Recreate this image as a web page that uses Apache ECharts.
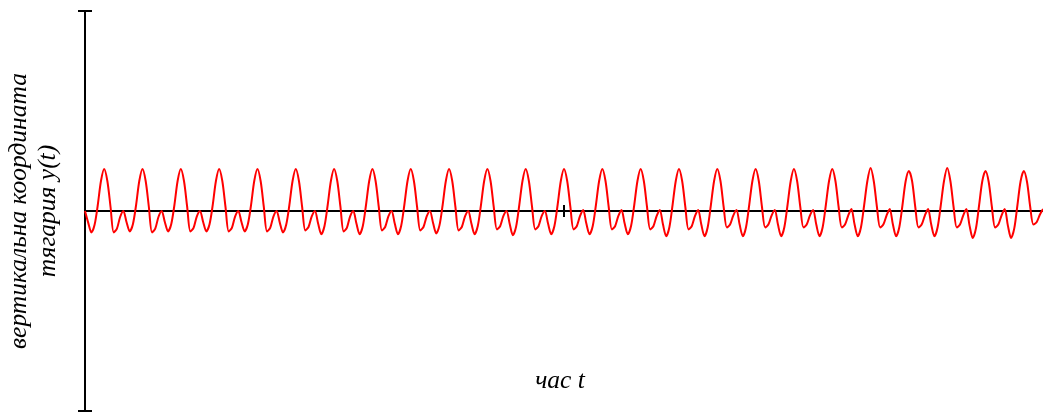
<!DOCTYPE html>
<html>
<head>
<meta charset="utf-8">
<script src="https://cdn.jsdelivr.net/npm/echarts@6/dist/echarts.min.js"></script>
<style>
  html, body { margin: 0; padding: 0; background: #fff; }
  #main { width: 1043px; height: 412px; }
</style>
</head>
<body>
<div id="main"></div>
<script>
var dom = document.getElementById('main');
var myChart = echarts.init(dom, null, { renderer: 'canvas' });

// axis texts
var xName = 'час t';
var yName = 'вертикальна координата\nтягария y(t)';

// y axis range and the one tick on the time axis
var yRange = [-10, 10];
var tRange = [0, 300];
var tTicks = [150];

// signal y(t), 12 samples per swing
var ySignal = [
  0, -0.58, -1.07, -0.69, 0.3, 1.5,
  2.1, 1.5, 0.2, -1.07, -0.88, -0.3, 0, -0.55, -1.02, -0.66, 0.3, 1.5,
  2.1, 1.5, 0.2, -1.07, -0.88, -0.3, 0, -0.55, -1.02, -0.66, 0.3, 1.5,
  2.1, 1.5, 0.2, -1.02, -0.84, -0.28, 0, -0.55, -1.02, -0.66, 0.3, 1.5,
  2.1, 1.5, 0.2, -1.02, -0.84, -0.28, 0, -0.55, -1.02, -0.66, 0.3, 1.5,
  2.1, 1.5, 0.2, -1.02, -0.84, -0.28, 0, -0.58, -1.07, -0.69, 0.3, 1.5,
  2.1, 1.5, 0.2, -0.97, -0.8, -0.27, 0, -0.63, -1.16, -0.75, 0.3, 1.5,
  2.1, 1.5, 0.2, -1.02, -0.84, -0.28, 0, -0.63, -1.16, -0.75, 0.3, 1.5,
  2.1, 1.5, 0.2, -0.97, -0.8, -0.27, 0, -0.63, -1.16, -0.75, 0.3, 1.5,
  2.1, 1.5, 0.2, -0.97, -0.8, -0.27, 0, -0.6, -1.12, -0.72, 0.3, 1.5,
  2.1, 1.5, 0.2, -0.97, -0.8, -0.27, 0, -0.63, -1.16, -0.75, 0.3, 1.5,
  2.1, 1.5, 0.2, -0.92, -0.76, -0.26, 0, -0.65, -1.21, -0.78, 0.3, 1.5,
  2.1, 1.5, 0.2, -0.92, -0.76, -0.26, 0, -0.63, -1.16, -0.75, 0.3, 1.5,
  2.1, 1.5, 0.2, -0.92, -0.76, -0.26, 0.05, -0.63, -1.16, -0.75, 0.3, 1.5,
  2.1, 1.5, 0.2, -0.92, -0.76, -0.26, 0.05, -0.63, -1.16, -0.75, 0.3, 1.5,
  2.1, 1.5, 0.2, -0.92, -0.76, -0.26, 0.05, -0.68, -1.26, -0.81, 0.3, 1.5,
  2.1, 1.5, 0.2, -0.92, -0.76, -0.26, 0.05, -0.68, -1.26, -0.81, 0.3, 1.5,
  2.1, 1.5, 0.2, -0.82, -0.68, -0.23, 0.05, -0.68, -1.26, -0.81, 0.3, 1.5,
  2.1, 1.5, 0.2, -0.82, -0.68, -0.23, 0.05, -0.68, -1.26, -0.81, 0.3, 1.5,
  2.1, 1.5, 0.2, -0.82, -0.68, -0.23, 0.05, -0.68, -1.26, -0.81, 0.3, 1.5,
  2.1, 1.5, 0.2, -0.82, -0.68, -0.23, 0.1, -0.68, -1.26, -0.81, 0.3, 1.5,
  2.15, 1.5, 0.2, -0.82, -0.68, -0.23, 0.1, -0.68, -1.26, -0.81, 0.3, 1.5,
  2.0, 1.5, 0.2, -0.82, -0.68, -0.23, 0.1, -0.68, -1.26, -0.81, 0.3, 1.5,
  2.15, 1.5, 0.2, -0.82, -0.68, -0.23, 0.1, -0.73, -1.35, -0.87, 0.3, 1.5,
  2.0, 1.45, 0.2, -0.82, -0.68, -0.23, 0.1, -0.73, -1.35, -0.87, 0.3, 1.5,
  2.0, 1.45, 0.2, -0.68, -0.56, -0.19, 0.1
];

var serif = 'Liberation Serif';
var lineStyle = { color: '#000', width: 2 };

function tAxis(inside, withName) {
  return {
    type: 'value',
    position: 'bottom',
    min: tRange[0],
    max: tRange[1],
    name: withName ? xName : '',
    nameLocation: 'middle',
    nameGap: -43,
    nameTextStyle: { fontFamily: serif, fontStyle: 'italic', fontSize: 25.5, color: '#000', padding: [0, 8, 0, 0] },
    axisLine: { show: withName, onZero: true, onZeroAxisIndex: 0, lineStyle: lineStyle },
    axisTick: { show: true, inside: inside, length: 6, customValues: tTicks, lineStyle: lineStyle },
    axisLabel: { show: false },
    splitLine: { show: false }
  };
}

function yAxisDef(inside, withName) {
  return {
    type: 'value',
    position: 'left',
    min: yRange[0],
    max: yRange[1],
    interval: yRange[1] - yRange[0],
    name: withName ? yName : '',
    nameLocation: 'middle',
    nameRotate: 90,
    nameGap: 22,
    nameTextStyle: { fontFamily: serif, fontStyle: 'italic', fontSize: 25.5, lineHeight: 29, color: '#000' },
    axisLine: { show: withName, onZero: false, lineStyle: lineStyle },
    axisTick: { show: true, inside: inside, length: 7, lineStyle: lineStyle },
    axisLabel: { show: false },
    splitLine: { show: false }
  };
}

var option = {
  animation: false,
  backgroundColor: '#fff',
  grid: { left: 85, right: 0, top: 11, bottom: 1, containLabel: false, outerBoundsMode: 'none' },
  xAxis: [tAxis(false, true), tAxis(true, false)],
  yAxis: [yAxisDef(false, true), yAxisDef(true, false)],
  series: [
    {
      type: 'line',
      xAxisIndex: 0,
      yAxisIndex: 0,
      data: ySignal.map(function (v, i) { return [i, v]; }),
      showSymbol: false,
      smooth: 0.3,
      lineStyle: { color: '#ff0000', width: 2 },
      z: 1
    }
  ]
};

if (option && typeof option === 'object') {
  myChart.setOption(option);
}

window.addEventListener('resize', myChart.resize);
</script>
</body>
</html>
